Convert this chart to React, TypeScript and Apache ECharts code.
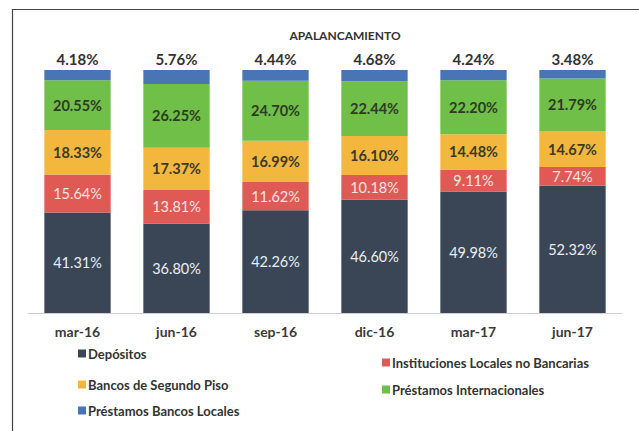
import React, { useEffect, useRef } from "react";
import * as echarts from "echarts";

const categories = ["mar-16", "jun-16", "sep-16", "dic-16", "mar-17", "jun-17"];
const depositos = [41.31, 36.8, 42.26, 46.6, 49.98, 52.32];
const instituciones = [15.64, 13.81, 11.62, 10.18, 9.11, 7.74];
const segundoPiso = [18.33, 17.37, 16.99, 16.1, 14.48, 14.67];
const internacionales = [20.55, 26.25, 24.7, 22.44, 22.2, 21.79];
const bancosLocales = [4.18, 5.76, 4.44, 4.68, 4.24, 3.48];

const seriesNames = [
  "Depósitos",
  "Instituciones Locales no Bancarias",
  "Bancos de Segundo Piso",
  "Préstamos Internacionales",
  "Préstamos Bancos Locales",
];

const FONT = "Lato, 'Open Sans', sans-serif";

export default function App() {
  const ref = useRef<HTMLDivElement>(null);
  useEffect(() => {
    if (!ref.current) return;
    const chart = echarts.init(ref.current, undefined, { renderer: "svg" });
    const fmt = (p: any) => p.value.toFixed(2) + "%";
    const mk = (
      name: string,
      data: number[],
      color: string,
      labelColor: string,
      bold: boolean,
      position: string = "inside"
    ) => ({
      name,
      type: "bar",
      stack: "total",
      data,
      barCategoryGap: "33%",
      itemStyle: { color },
      label: {
        show: true,
        position,
        distance: 4,
        formatter: fmt,
        color: labelColor,
        fontFamily: FONT,
        fontSize: position === "top" ? 15 : 14.5,
        fontWeight: bold ? "bold" : "normal",
      },
    });
    const legendItem = (name: string, left: number, top: number) => ({
      data: [name],
      left,
      top,
      itemWidth: 8,
      itemHeight: 8,
      icon: "rect",
      textStyle: {
        fontFamily: FONT,
        fontSize: 13,
        fontWeight: "bold",
        color: "#333",
        padding: [0, 0, 0, -3],
      },
    });
    chart.setOption({
      animation: false,
      backgroundColor: "#fff",
      color: ["#3a4656", "#e05a55", "#f4b73e", "#6fbf48", "#4a75b5"],
      title: {
        text: "APALANCAMIENTO",
        left: 340,
        top: 24,
        textAlign: "center",
        textStyle: { fontFamily: FONT, fontSize: 12, fontWeight: "bold", color: "#333" },
      },
      grid: { left: 28, right: 17, top: 70, bottom: 118 },
      xAxis: {
        type: "category",
        data: categories,
        axisLine: { lineStyle: { color: "#cfcfcf" } },
        axisTick: { show: false },
        axisLabel: {
          fontFamily: FONT,
          fontSize: 14,
          fontWeight: "bold",
          color: "#3a3a3a",
          margin: 11,
        },
      },
      yAxis: { type: "value", min: 0, max: 100, show: false },
      legend: [
        legendItem(seriesNames[0], 73, 342),
        legendItem(seriesNames[1], 377, 351),
        legendItem(seriesNames[2], 73, 373),
        legendItem(seriesNames[3], 377, 378),
        legendItem(seriesNames[4], 73, 399),
      ],
      graphic: [
        {
          type: "polyline",
          shape: { points: [[12.5, 432], [12.5, 9.5], [645, 9.5]] },
          style: { stroke: "#444", lineWidth: 1.2, fill: "none" },
          silent: true,
        },
      ],
      series: [
        mk(seriesNames[0], depositos, "#3a4656", "#e8eef5", false),
        mk(seriesNames[1], instituciones, "#e05a55", "#f7e4e2", false),
        mk(seriesNames[2], segundoPiso, "#f4b73e", "#3a3a28", true),
        mk(seriesNames[3], internacionales, "#6fbf48", "#2f3a26", true),
        mk(seriesNames[4], bancosLocales, "#4a75b5", "#333", true, "top"),
      ],
    });
    return () => chart.dispose();
  }, []);
  return <div ref={ref} style={{ width: 639, height: 431, position: "absolute", left: 0, top: 0 }} />;
}
